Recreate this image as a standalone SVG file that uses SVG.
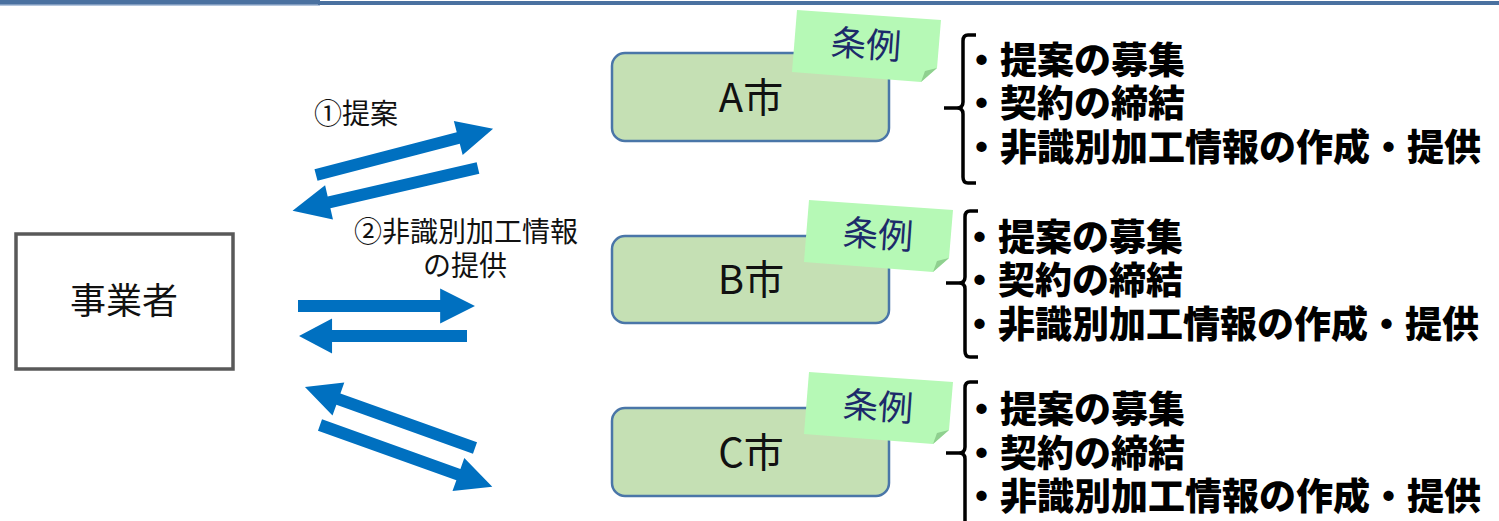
<svg xmlns="http://www.w3.org/2000/svg" width="1499" height="521" viewBox="0 0 1499 521">
<style>
.jp{font-family:"Noto Sans CJK JP","Noto Sans",sans-serif}
.city rect{fill:#c5e0b4;stroke:#4a76a8;stroke-width:2.5}
.city text{font-size:40px;fill:#111;text-anchor:middle}
.note{fill:#b6f9b6}
.fold{fill:#8fd08f}
.notetxt{font-size:35px;fill:#1c2a6a;text-anchor:middle}
.brace{fill:none;stroke:#000;stroke-width:3.5;stroke-linejoin:round}
.item{font-size:37px;font-weight:900;fill:#000}
.arrow{fill:#0070c0}
.lbl{font-size:28px;fill:#111}
</style>
<defs>
<polygon id="ar183" points="0,-6 147,-6 147,-17.5 183,0 147,17.5 147,6 0,6"/>
</defs>
<g id="topline">
<rect x="0" y="0" width="320" height="5" fill="#4a71a0"/>
<rect x="0" y="4.5" width="320" height="1.5" fill="#b4c6de"/>
<rect x="318" y="1" width="1181" height="4" fill="#4a71a0"/>
</g>
<g id="jigyousha" class="jp">
<rect x="16" y="234" width="217" height="135" fill="#fff" stroke="#595959" stroke-width="3.5"/>
<text x="124" y="314" font-size="36" fill="#111" text-anchor="middle">事業者</text>
</g>
<g id="cityA" class="city jp">
<rect x="612" y="53" width="277" height="88" rx="13"/>
<text x="751" y="112">A市</text>
</g>
<g id="cityB" class="city jp">
<rect x="612" y="236" width="277" height="87" rx="13"/>
<text x="751" y="294">B市</text>
</g>
<g id="cityC" class="city jp">
<rect x="612" y="408" width="277" height="88" rx="13"/>
<text x="751" y="467">C市</text>
</g>
<g id="noteA" class="jp">
<polygon class="note" points="797,10 941,20 937,68 921,82 792,72"/>
<polygon class="fold" points="937,68 921,82 925,71"/>
<text class="notetxt" x="866" y="57" transform="rotate(4 866 45)">条例</text>
</g>
<g id="noteB" class="jp">
<polygon class="note" points="809,200 953,210 949,258 933,272 804,262"/>
<polygon class="fold" points="949,258 933,272 937,261"/>
<text class="notetxt" x="878" y="247" transform="rotate(4 878 235)">条例</text>
</g>
<g id="noteC" class="jp">
<polygon class="note" points="809,372 953,382 949,430 933,444 804,434"/>
<polygon class="fold" points="949,430 933,444 937,433"/>
<text class="notetxt" x="878" y="419" transform="rotate(4 878 407)">条例</text>
</g>
<g id="listA" class="jp">
<path class="brace" d="M976,35 L968,35 Q963,35 963,41 L963,102 Q963,108 957,108 L944,108 M957,108 Q963,108 963,114 L963,177 Q963,183 968,183 L976,183"/>
<text class="item" x="963" y="74">・提案の募集</text>
<text class="item" x="963" y="117">・契約の締結</text>
<text class="item" x="963" y="161">・非識別加工情報の作成・提供</text>
</g>
<g id="listB" class="jp">
<path class="brace" d="M978,211 L970,211 Q965,211 965,217 L965,277 Q965,283 959,283 L946,283 M959,283 Q965,283 965,289 L965,351 Q965,357 970,357 L978,357"/>
<text class="item" x="961" y="251">・提案の募集</text>
<text class="item" x="961" y="294">・契約の締結</text>
<text class="item" x="961" y="338">・非識別加工情報の作成・提供</text>
</g>
<g id="listC" class="jp">
<path class="brace" d="M978,382 L970,382 Q965,382 965,388 L965,447 Q965,453 959,453 L946,453 M959,453 Q965,453 965,459 L965,523"/>
<text class="item" x="963" y="423">・提案の募集</text>
<text class="item" x="963" y="467">・契約の締結</text>
<text class="item" x="963" y="510">・非識別加工情報の作成・提供</text>
</g>
<g id="connectors">
<use href="#ar183" class="arrow" transform="translate(316,175) rotate(-14.6)"/>
<use href="#ar183" class="arrow" transform="translate(478,168) rotate(167) scale(1.04,1)"/>
<use href="#ar183" class="arrow" transform="translate(298,306) scale(0.967,1)"/>
<use href="#ar183" class="arrow" transform="translate(467,336) rotate(180) scale(0.918,1)"/>
<use href="#ar183" class="arrow" transform="translate(475,448) rotate(199.7) scale(0.987,1)"/>
<use href="#ar183" class="arrow" transform="translate(320,425) rotate(19.7)"/>
</g>
<g id="labels" class="jp">
<text class="lbl" x="314" y="124">①提案</text>
<text class="lbl" x="466" y="242" text-anchor="middle">②非識別加工情報</text>
<text class="lbl" x="465" y="276" text-anchor="middle">の提供</text>
</g>
</svg>
